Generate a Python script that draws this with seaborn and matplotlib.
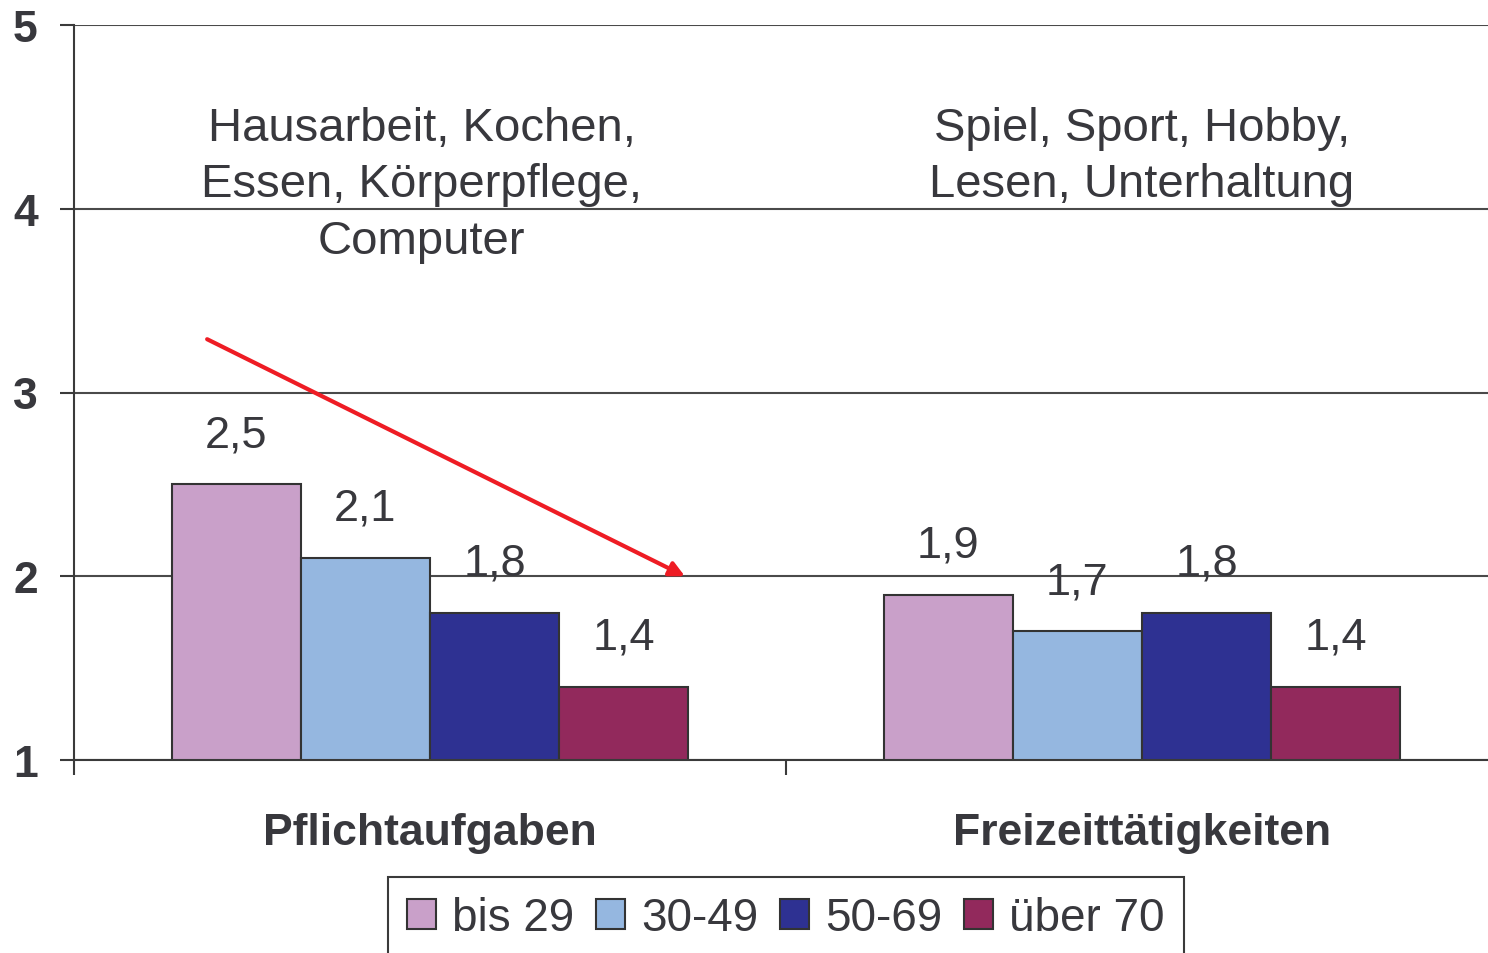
import pandas as pd
import seaborn as sns
from matplotlib import pyplot as plt
from matplotlib.ticker import FixedLocator

categories = ["Pflichtaufgaben", "Freizeittätigkeiten"]
age_groups = ["bis 29", "30-49", "50-69", "über 70"]
pflicht = [2.5, 2.1, 1.8, 1.4]
freizeit = [1.9, 1.7, 1.8, 1.4]
colors = ["#C9A0C9", "#95B7E0", "#2E3192", "#92295C"]
notes = ["Hausarbeit, Kochen,\nEssen, Körperpflege,\nComputer",
         "Spiel, Sport, Hobby,\nLesen, Unterhaltung"]
y_ticks = [1, 2, 3, 4, 5]

# trend arrow over the first group (data coords)
arrow_start = (-0.313, 3.29)
arrow_end = (0.358, 2.0)

rows = []
for cat, vals in zip(categories, [pflicht, freizeit]):
    for g, v in zip(age_groups, vals):
        rows.append({"Kategorie": cat, "Alter": g, "Wert": v})
df = pd.DataFrame(rows)

sns.set_style("white")
plt.rcParams["font.family"] = ["Liberation Sans", "DejaVu Sans"]
txt = "#38383d"

fig = plt.figure(figsize=(14.88, 9.54), dpi=100)
ax = fig.add_axes([74 / 1488, 1 - 761 / 954, 1 - 74 / 1488, (761 - 26) / 954])

sns.barplot(data=df, x="Kategorie", y="Wert", hue="Alter", order=categories,
            hue_order=age_groups, palette=colors, saturation=1, width=0.726,
            edgecolor="#333333", linewidth=1.5, ax=ax)

for cont, g in zip(ax.containers, age_groups):
    vals = df[df["Alter"] == g]["Wert"].tolist()
    ax.bar_label(cont, labels=[f"{v:.1f}".replace(".", ",") for v in vals],
                 padding=21, fontsize=32.5, color=txt)

ax.set_ylim(1, 5)
ax.set_xlim(-0.5, 1.486)
ax.set_yticks(y_ticks)
ax.yaxis.grid(True, color="#4a4a4a", linewidth=1.5)
ax.set_axisbelow(True)
ax.set_xlabel("")
ax.set_ylabel("")

for s in ["top", "right"]:
    ax.spines[s].set_visible(False)
for s in ["left", "bottom"]:
    ax.spines[s].set_color("#3a3a3a")
    ax.spines[s].set_linewidth(1.5)

ax.tick_params(axis="y", left=True, direction="out", length=10, width=1.5,
               pad=16, labelsize=32, color="#3a3a3a", labelcolor=txt)
for lab in ax.get_yticklabels():
    lab.set_fontweight("bold")

ax.xaxis.set_minor_locator(FixedLocator([-0.5, 0.5, 1.5]))
ax.tick_params(axis="x", which="major", bottom=False, length=0, pad=37.5,
               labelsize=32, labelcolor=txt)
ax.tick_params(axis="x", which="minor", bottom=True, direction="out",
               length=11, width=1.5, color="#3a3a3a")
for lab in ax.get_xticklabels():
    lab.set_fontweight("bold")

ax.text(-0.012, 4.56, notes[0], ha="center", va="top", fontsize=34,
        color=txt, linespacing=1.37)
ax.text(1.0, 4.56, notes[1], ha="center", va="top", fontsize=34,
        color=txt, linespacing=1.37)

ax.annotate("", xy=arrow_end, xytext=arrow_start,
            arrowprops=dict(arrowstyle="-|>", color="#EE1C24", lw=3,
                            mutation_scale=22, shrinkA=0, shrinkB=0))

handles, labels = ax.get_legend_handles_labels()
ax.legend(handles, labels, loc="upper center", ncol=4,
          bbox_to_anchor=(786 / 1488, 1 - 878 / 954),
          bbox_transform=fig.transFigure, borderaxespad=0, fontsize=33,
          frameon=True, fancybox=False, framealpha=1, edgecolor="#3a3a3a",
          handlelength=0.62, handleheight=0.62, handletextpad=0.36,
          columnspacing=0.48, borderpad=0.42, labelcolor=txt)
ax.get_legend().get_frame().set_linewidth(1.5)

plt.savefig("out.png", dpi=100)
